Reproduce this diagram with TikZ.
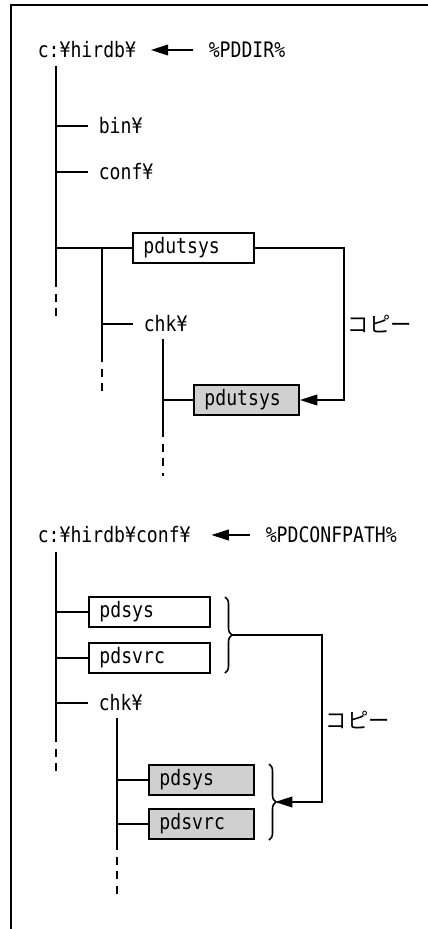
\documentclass[tikz,border=0pt]{standalone}
\usepackage{fontspec}
\setmainfont{DejaVu Sans Mono}[FakeStretch=0.85]
\newfontfamily\jpfont{Noto Sans CJK JP}
\usetikzlibrary{arrows.meta,decorations.pathreplacing}
\definecolor{boxgray}{RGB}{208,208,208}

\tikzset{every picture/.style={line width=1.2pt}}
\tikzset{
  txt/.style={anchor=west, inner sep=0pt, font=\fontsize{16}{19}\selectfont},
  filebox/.style={draw, anchor=west, minimum height=22.5pt, inner xsep=8pt,
    text width=75pt, align=left, font=\fontsize{16}{19}\selectfont},
  copybox/.style={filebox, fill=boxgray, text width=63pt},
  goon/.style={dash pattern=on 6pt off 5pt, dash phase=6pt},
  cpyarrow/.style={-{Triangle[length=13pt,width=8pt]}},
  grp/.style={decorate, decoration={brace, amplitude=5.25pt}},
  jp/.style={txt, font=\jpfont\fontsize{16}{19}\selectfont},
}

\begin{document}
\begin{tikzpicture}[x=0.75pt,y=0.75pt,yscale=-1,xscale=1]
		\useasboundingbox (0,0) rectangle (428,929);
		
		%Frame
		\draw (11,929) -- (11,5) -- (428,5);
		
		%%%% %PDDIR% part
		% Text Node
		\node[txt] (pddir) at (37,50) {c:¥hirdb¥};
		% Text Node
		\node[txt] (pddirenv) at (208,50) {\%PDDIR\%};
		% Text Node
		\node[txt] (bin) at (98,126) {bin¥};
		% Text Node
		\node[txt] (conf) at (98,172) {conf¥};
		% File box
		\node[filebox] (utsys) at (132,248) {pdutsys};
		% Text Node
		\node[txt] (chk) at (143,324) {chk¥};
		% File box (copy)
		\node[copybox] (utsyscp) at (193,400) {pdutsys};
		% Text Node
		\node[jp] (copy1) at (347,324) {コピー};
		
		\coordinate (trunk) at (56,66);
		\coordinate (trunkend) at (56,287);
		\coordinate (sub) at (102,248);
		\coordinate (subend) at (102,362);
		\coordinate (chktop) at (163,339);
		\coordinate (chkend) at (163,437);
		\coordinate (cpbend) at (344,324);
		
		%Straight Lines
		\draw[cpyarrow] ([xshift=-11.25pt]pddirenv.west) -- ([xshift=10.5pt]pddir.east);
		\draw (trunk) -- (trunkend);
		\draw[goon] (trunkend) -- ++(0,31);
		\draw (trunk |- bin) -- ([xshift=-7.5pt]bin.west);
		\draw (trunk |- conf) -- ([xshift=-7.5pt]conf.west);
		\draw (trunk |- utsys) -- (utsys.west);
		\draw (sub) -- (subend);
		\draw[goon] (subend) -- ++(0,32);
		\draw (sub |- chk) -- ([xshift=-7.5pt]chk.west);
		\draw (chktop) -- (chkend);
		\draw[goon] (chkend) -- ++(0,39);
		\draw (chktop |- utsyscp) -- (utsyscp.west);
		%Copy
		\draw[cpyarrow] (utsys.east) -- (utsys.east -| cpbend) -- (utsyscp.east -| cpbend) -- (utsyscp.east);
		
		%%%% %PDCONFPATH% part
		% Text Node
		\node[txt] (confdir) at (37,535) {c:¥hirdb¥conf¥};
		% Text Node
		\node[txt] (confenv) at (265,535) {\%PDCONFPATH\%};
		% File box
		\node[filebox] (sys) at (88,612) {pdsys};
		% File box
		\node[filebox] (svrc) at (88,658) {pdsvrc};
		% Text Node
		\node[txt] (chk2) at (98,703) {chk¥};
		% File box (copy)
		\node[copybox] (syscp) at (148,780) {pdsys};
		% File box (copy)
		\node[copybox] (svrccp) at (148,824) {pdsvrc};
		% Text Node
		\node[jp] (copy2) at (325,720) {コピー};
		
		\coordinate (trunk2) at (56,552);
		\coordinate (trunk2end) at (56,742);
		\coordinate (chk2top) at (117,718);
		\coordinate (chk2end) at (117,850);
		\coordinate (grp1a) at (225,597);
		\coordinate (grp1b) at (225,673);
		\coordinate (grp1tip) at (232,635);
		\coordinate (grp2a) at (269,764);
		\coordinate (grp2b) at (269,840);
		\coordinate (grp2tip) at (275,802);
		\coordinate (cpbend2) at (322,720);
		
		%Straight Lines
		\draw[cpyarrow] ([xshift=-11.25pt]confenv.west) -- ([xshift=15pt]confdir.east);
		\draw (trunk2) -- (trunk2end);
		\draw[goon] (trunk2end) -- ++(0,31);
		\draw (trunk2 |- sys) -- (sys.west);
		\draw (trunk2 |- svrc) -- (svrc.west);
		\draw (trunk2 |- chk2) -- ([xshift=-7.5pt]chk2.west);
		\draw (chk2top) -- (chk2end);
		\draw[goon] (chk2end) -- ++(0,45);
		\draw (chk2top |- syscp) -- (syscp.west);
		\draw (chk2top |- svrccp) -- (svrccp.west);
		%Braces
		\draw[grp] (grp1a) -- (grp1b);
		\draw[grp] (grp2a) -- (grp2b);
		%Copy
		\draw[cpyarrow] (grp1tip) -- (grp1tip -| cpbend2) -- (grp2tip -| cpbend2) -- (grp2tip);
	\end{tikzpicture}
\end{document}
